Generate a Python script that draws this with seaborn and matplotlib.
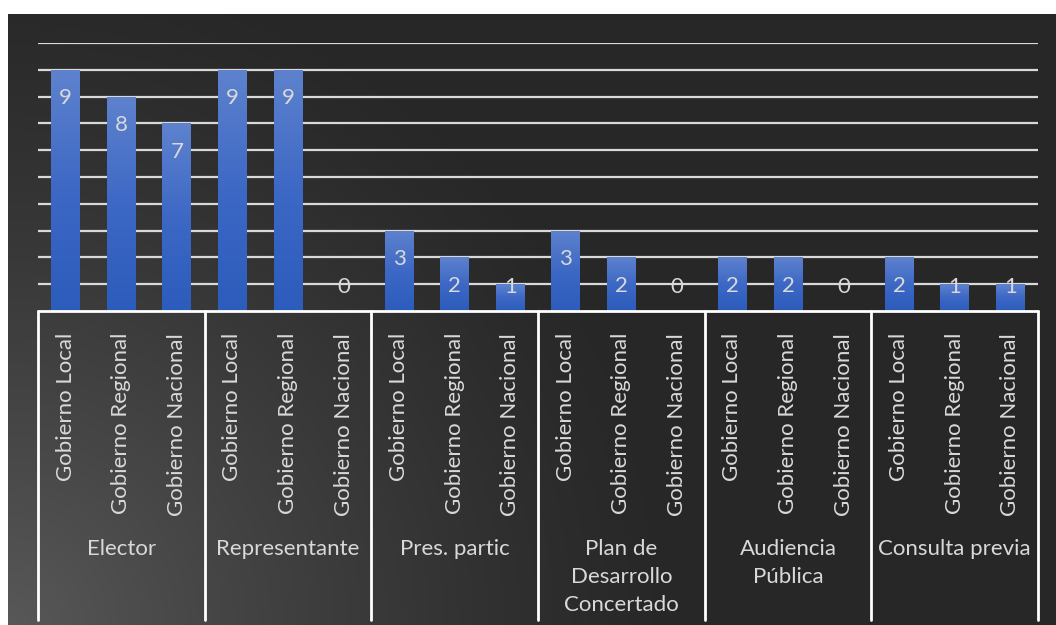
import numpy as np
import pandas as pd
import seaborn as sns
import matplotlib.pyplot as plt
from matplotlib.colors import LinearSegmentedColormap

# data
groups = ["Elector", "Representante", "Pres. partic",
          "Plan de\nDesarrollo\nConcertado", "Audiencia\nPública", "Consulta previa"]
levels = ["Gobierno Local", "Gobierno Regional", "Gobierno Nacional"]
elector = [9, 8, 7]
representante = [9, 9, 0]
pres_partic = [3, 2, 1]
plan_desarrollo = [3, 2, 0]
audiencia = [2, 2, 0]
consulta = [2, 1, 1]

series = [elector, representante, pres_partic, plan_desarrollo, audiencia, consulta]
rows = []
for g, vals in zip(groups, series):
    for lvl, v in zip(levels, vals):
        rows.append({"grupo": g, "nivel": lvl, "valor": v})
df = pd.DataFrame(rows)
df["slot"] = np.arange(len(df))

sns.set_theme(style="white")
plt.rcParams["font.family"] = ["Lato", "DejaVu Sans"]
TXT = "#d9d9d9"
FS = 16

fig = plt.figure(figsize=(10.56, 6.25), dpi=100)
fig.patch.set_facecolor("white")

# dark radial background (lighter toward bottom-left)
bg = fig.add_axes([8 / 1056, 0, 1 - 8 / 1056, 1 - 14 / 625])
W, H = 1048, 611
xx, yy = np.meshgrid(np.arange(W), np.arange(H))
d = np.hypot(xx, H - yy)
t = np.clip(1 - d / 680, 0, 1) ** 1.3
shade = (0x27 + (0x58 - 0x27) * t) / 255
bg.imshow(np.dstack([shade] * 3), aspect="auto", extent=(0, W, 0, H), origin="upper")
bg.set_axis_off()

ax = fig.add_axes([38 / 1056, 1 - 311 / 625, 1000 / 1056, 268 / 625])
ax.set_facecolor("none")

sns.barplot(data=df, x="slot", y="valor", color="#3f6ac6", width=0.52,
            saturation=1, errorbar=None, linewidth=0, ax=ax, zorder=3)

# vertical gradient on each bar
cmap = LinearSegmentedColormap.from_list("bar", ["#2c5cbc", "#3d68c5", "#5e82cd"])
grad = np.linspace(0, 1, 256).reshape(-1, 1)
for p in ax.patches:
    x0, y0 = p.get_x(), p.get_y()
    w, h = p.get_width(), p.get_height()
    if h <= 0:
        continue
    im = ax.imshow(grad, cmap=cmap, aspect="auto", origin="lower",
                   extent=(x0, x0 + w, y0, y0 + h), zorder=3.5)
    im.set_clip_path(p)

ax.set_xlim(-0.5, len(df) - 0.5)
ax.set_ylim(0, 10)
ax.set_yticks(np.arange(1, 11))
ax.yaxis.grid(True, color=TXT, lw=1.6, zorder=1)
ax.set_axisbelow(True)
ax.tick_params(left=False, bottom=False, labelleft=False, labelbottom=False)
ax.set_xlabel("")
ax.set_ylabel("")
for s in ax.spines.values():
    s.set_visible(False)

# value labels (inside end)
for i, v in enumerate(df["valor"]):
    ax.text(i, max(v - 1.05, 0.9), f"{v}", ha="center", va="center",
            color=TXT, fontsize=FS, zorder=5)

trans = ax.get_xaxis_transform()
# multi-level category axis
ax.plot([-0.5, len(df) - 0.5], [0, 0], color="white", lw=2, transform=trans,
        clip_on=False, zorder=4)
for k in range(len(groups) + 1):
    b = 3 * k - 0.5
    ax.plot([b, b], [0, -309 / 268], color="white", lw=2, transform=trans,
            clip_on=False, zorder=4)
for i, lvl in enumerate(df["nivel"]):
    ax.text(i, -22 / 268, lvl, rotation=90, ha="center", va="top",
            color=TXT, fontsize=FS, transform=trans)
for k, g in enumerate(groups):
    ax.text(3 * k + 1, -0.85, g, ha="center", va="top", color=TXT,
            fontsize=FS, linespacing=1.5, transform=trans)

fig.savefig("out.png", dpi=100)
